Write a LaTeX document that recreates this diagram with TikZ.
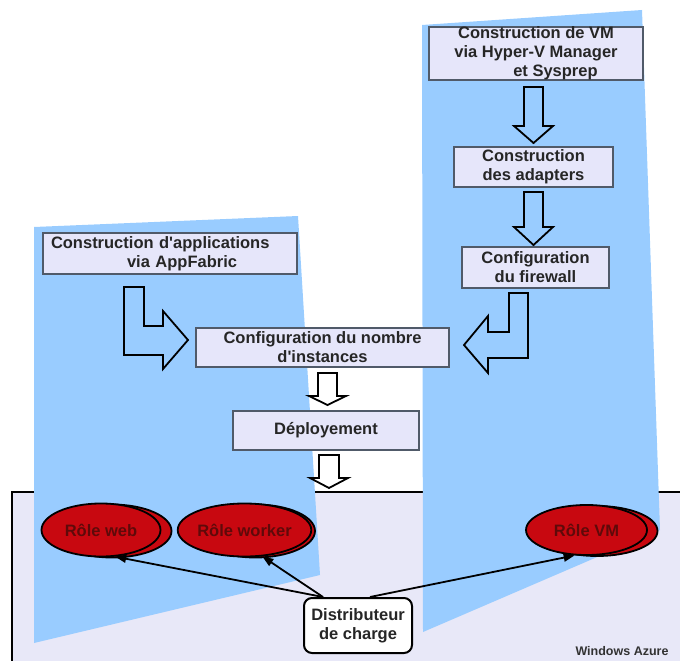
\documentclass[tikz,border=0pt]{standalone}
\usepackage{fontspec}
\setmainfont{Liberation Sans}
\usepackage{tikz}
\usetikzlibrary{arrows.meta,shapes.geometric}

\definecolor{panelblue}{RGB}{153,204,255}
\definecolor{boxfill}{RGB}{230,230,250}
\definecolor{boxline}{RGB}{80,90,105}
\definecolor{azurefill}{RGB}{232,232,248}
\definecolor{rolered}{RGB}{200,8,16}
\definecolor{roletext}{RGB}{95,10,10}

\begin{document}
\begin{tikzpicture}[x=1pt,y=-1pt,
 step node/.style={rectangle,fill=boxfill,draw=boxline,line width=1.5pt,inner sep=0pt,
   align=center,text=black!85,font=\bfseries\fontsize{16.5}{19}\selectfont},
 role node/.style={ellipse,fill=rolered,draw=black,line width=1.8pt,inner sep=0pt,
   minimum width=119pt,minimum height=53pt,text=roletext,font=\bfseries\fontsize{16.5}{19}\selectfont},
 block/.style={draw=black,line width=1.8pt,line join=miter},
 link/.style={-{Triangle[length=11pt,width=8pt]},line width=1.8pt}]
\useasboundingbox (0,0) rectangle (680,661);
%frame
  \fill[azurefill] (12,492) rectangle (680,661);
  \draw[line width=1.8pt] (12,661) -- (12,492) -- (680,492);
%panels
  \fill[panelblue] (34,227) -- (298,216) -- (320,575) -- (34,643) -- cycle;
  \fill[panelblue] (422,25) -- (642,10) -- (660,530) -- (423,632) -- cycle;
%left column
  \node[step node,text width=238pt,inner xsep=8pt,align=left,minimum height=41pt] (apps) at (170,253.5)
    {Construction d\textquotesingle applications\\\hspace*{76pt}via AppFabric};
%right column
  \node[step node,minimum width=214pt,minimum height=53pt] (vm) at (536,53.5)
    {Construction de VM\\via Hyper-V Manager\\\hspace*{39pt}et Sysprep};
  \node[step node,minimum width=159pt,minimum height=40pt] (adapt) at (533.5,167) {Construction\\des adapters};
  \node[step node,minimum width=147pt,minimum height=41pt] (fw) at (535.5,267.5) {Configuration\\du firewall};
%middle
  \node[step node,minimum width=253pt,minimum height=39pt] (count) at (322.5,347.5)
    {Configuration du nombre\\d\textquotesingle instances};
  \node[step node,minimum width=186pt,minimum height=39pt] (deploy) at (326,430.5) {Déployement};
%block arrows
  \draw[block] (524,87) -- (543,87) -- (543,126) -- (553,126) -- (533.5,143) -- (514,126) -- (524,126) -- cycle;
  \draw[block] (524,192) -- (543,192) -- (543,227) -- (553,227) -- (533.5,245) -- (514,227) -- (524,227) -- cycle;
  \draw[block] (124,287) -- (144,287) -- (144,326) -- (163,326) -- (163,311) -- (188,340)
    -- (163,369) -- (163,355) -- (124,355) -- cycle;
  \draw[block] (509,293) -- (528,293) -- (528,358) -- (488,358) -- (488,373) -- (464,345)
    -- (488,316) -- (488,332) -- (509,332) -- cycle;
  \draw[block] (318,373) -- (337,373) -- (337,396) -- (346,396) -- (327.5,405) -- (309,396) -- (318,396) -- cycle;
  \draw[block] (319,455) -- (339,455) -- (339,478) -- (348,478) -- (329,488) -- (310,478) -- (319,478) -- cycle;
%roles
  \node[role node] (web back) at (112,531) {};
  \node[role node] (web) at (101,530) {Rôle web};
  \node[role node] (worker back) at (255.5,531) {};
  \node[role node] (worker) at (244.5,530) {Rôle worker};
  \node[role node,minimum width=121pt,minimum height=50pt] (vmrole back) at (597,531) {};
  \node[role node,minimum width=121pt,minimum height=50pt] (vmrole) at (586.5,530) {Rôle VM};
%load balancer
  \node[rectangle,rounded corners=8pt,fill=white,draw=black,line width=2pt,inner sep=0pt,
    minimum width=108pt,minimum height=55pt,align=center,text=black!85,
    font=\bfseries\fontsize{16.5}{19}\selectfont] (dist) at (358,625.5) {Distributeur\\de charge};
  \draw[link] ([xshift=-35pt]dist.north) -- (web.-62);
  \draw[link] ([xshift=-35pt]dist.north) -- (worker.-56);
  \draw[link] ([xshift=12pt]dist.north) -- (vmrole.-115);
  \node[anchor=base east,text=black!80,font=\bfseries\fontsize{12.5}{14}\selectfont] (azure) at (672,655) {Windows Azure};
\end{tikzpicture}
\end{document}
